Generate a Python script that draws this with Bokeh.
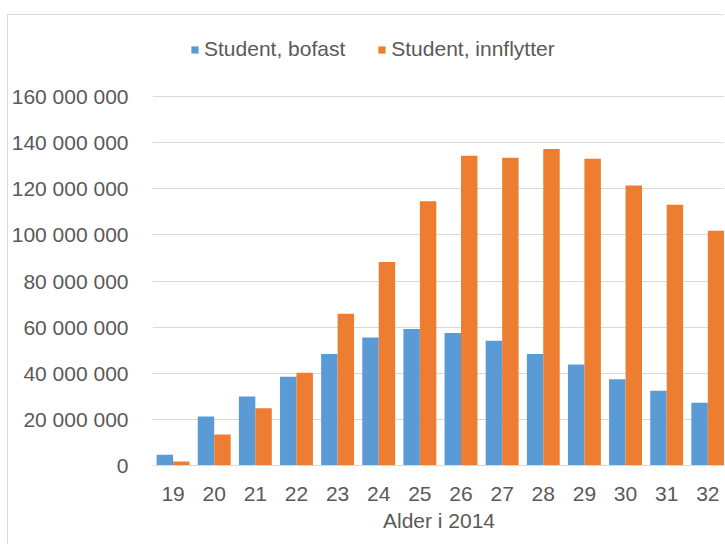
from bokeh.plotting import figure
from bokeh.models import ColumnDataSource, FixedTicker, Range1d, Legend, LegendItem
from bokeh.transform import dodge
from bokeh.embed import file_html
from bokeh.resources import INLINE

# Data (kroner per age group)
ages = [19, 20, 21, 22, 23, 24, 25, 26, 27, 28, 29, 30, 31, 32]
bofast = [4.7e6, 21.2e6, 29.9e6, 38.5e6, 48.4e6, 55.5e6, 59.2e6, 57.5e6,
          54.1e6, 48.4e6, 43.8e6, 37.4e6, 32.4e6, 27.2e6]
innflytter = [1.7e6, 13.4e6, 24.8e6, 40.2e6, 65.8e6, 88.2e6, 114.6e6, 134.3e6,
              133.4e6, 137.2e6, 133.0e6, 121.4e6, 113.1e6, 101.8e6]
y_ticks = [0, 20_000_000, 40_000_000, 60_000_000, 80_000_000,
           100_000_000, 120_000_000, 140_000_000, 160_000_000]
series_names = ["Student, bofast", "Student, innflytter"]
x_title = "Alder i 2014"

BLUE = "#5B9BD5"
ORANGE = "#ED7D31"
TEXT = "#595959"
GRID = "#D9D9D9"
FONT = "Liberation Sans"
FS = "21px"

src = ColumnDataSource(dict(age=ages, bofast=bofast, innflytter=innflytter))

# The frame reaches to the top of the canvas so the legend can sit inside it;
# the value axis keeps 160 000 000 as its highest gridline.
FRAME_H = 450
y_top = 160_000_000 * FRAME_H / 369

p = figure(width=717, height=530, output_backend="svg", toolbar_location=None,
           x_range=Range1d(18.5, 32.43), y_range=Range1d(0, y_top),
           min_border_left=143, min_border_right=0, min_border_top=0,
           min_border_bottom=80)
p.styles = {"margin-left": "7px", "margin-top": "14px",
            "border-left": f"1px solid {GRID}", "border-top": f"1px solid {GRID}"}
p.outline_line_color = None
p.background_fill_color = "white"
p.border_fill_color = "white"

r1 = p.vbar(x=dodge("age", -0.2), top="bofast", width=0.4, source=src,
            fill_color=BLUE, line_color=None)
r2 = p.vbar(x=dodge("age", 0.2), top="innflytter", width=0.4, source=src,
            fill_color=ORANGE, line_color=None)

# Axes
p.xaxis.ticker = FixedTicker(ticks=ages)
p.xaxis.axis_line_color = GRID
p.xaxis.axis_line_width = 1
p.xaxis.major_tick_line_color = None
p.xaxis.minor_tick_line_color = None
p.xaxis.major_label_standoff = 15
p.xaxis.major_label_text_font = FONT
p.xaxis.major_label_text_font_size = FS
p.xaxis.major_label_text_color = TEXT
p.xaxis.axis_label = x_title
p.xaxis.axis_label_text_font = FONT
p.xaxis.axis_label_text_font_size = FS
p.xaxis.axis_label_text_font_style = "normal"
p.xaxis.axis_label_text_color = TEXT
p.xaxis.axis_label_standoff = 5

p.yaxis.ticker = FixedTicker(ticks=y_ticks)
p.yaxis.major_label_overrides = {v: f"{v:,}".replace(",", " ") for v in y_ticks}
p.yaxis.axis_line_color = None
p.yaxis.major_tick_line_color = None
p.yaxis.minor_tick_line_color = None
p.yaxis.major_label_standoff = 18
p.yaxis.major_label_text_font = FONT
p.yaxis.major_label_text_font_size = FS
p.yaxis.major_label_text_color = TEXT

p.xgrid.grid_line_color = None
p.ygrid.grid_line_color = GRID
p.ygrid.grid_line_width = 1

legend = Legend(items=[LegendItem(label=series_names[0], renderers=[r1]),
                       LegendItem(label=series_names[1], renderers=[r2])],
                orientation="horizontal", location=(38, 404),
                glyph_width=9, glyph_height=9, label_standoff=5, spacing=32,
                padding=0, margin=0, border_line_color=None,
                background_fill_alpha=0,
                label_text_font=FONT, label_text_font_size=FS,
                label_text_color=TEXT)
p.add_layout(legend, "center")

open("out.html", "w").write(file_html(p, INLINE))
